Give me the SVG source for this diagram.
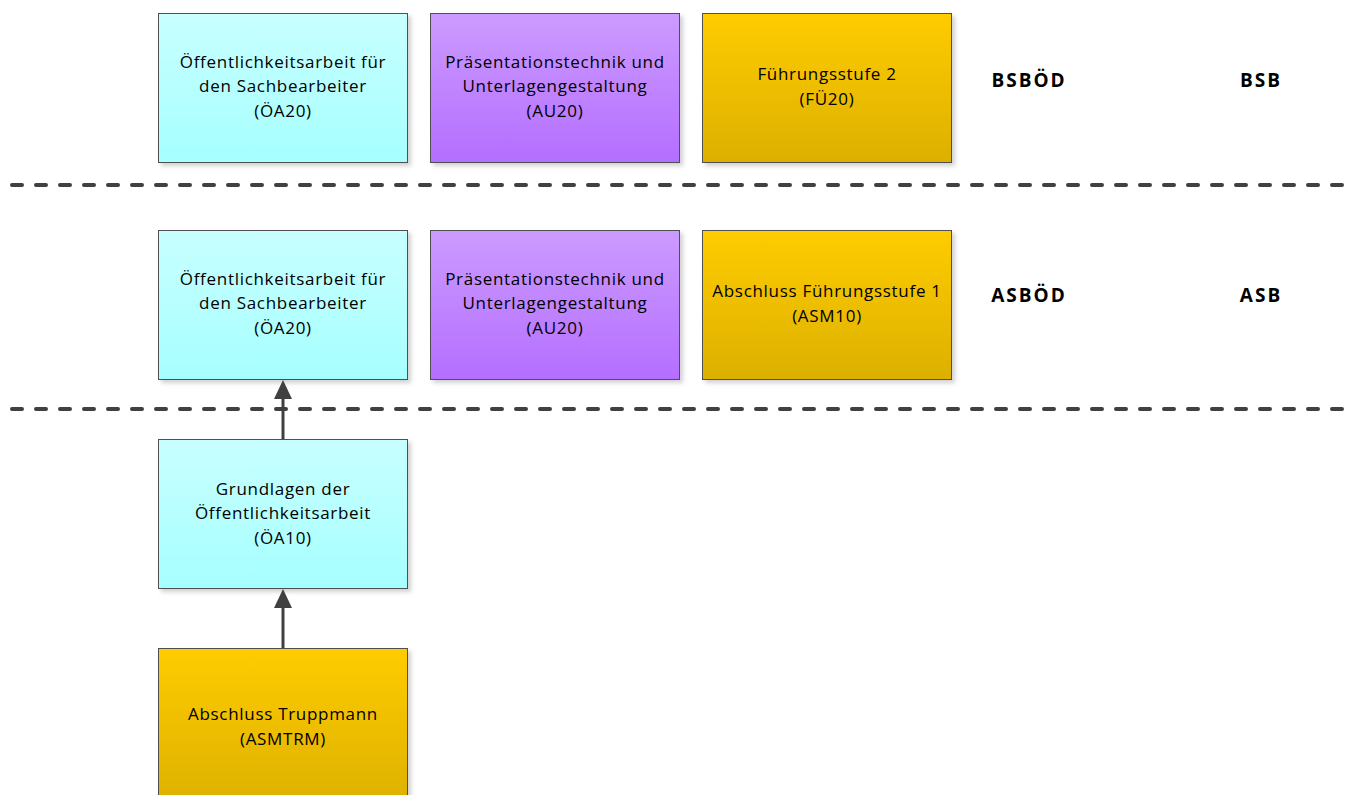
<svg xmlns="http://www.w3.org/2000/svg" width="1351" height="795" viewBox="0 0 1351 795">
<defs>
<linearGradient id="gc" x1="0" y1="0" x2="0" y2="1"><stop offset="0" stop-color="#c8ffff"/><stop offset="1" stop-color="#a6ffff"/></linearGradient>
<linearGradient id="gp" x1="0" y1="0" x2="0" y2="1"><stop offset="0" stop-color="#cc9bff"/><stop offset="1" stop-color="#b46eff"/></linearGradient>
<linearGradient id="gy" x1="0" y1="0" x2="0" y2="1"><stop offset="0" stop-color="#ffcc00"/><stop offset="1" stop-color="#dcb000"/></linearGradient>
<filter id="sh" x="-5%" y="-5%" width="115%" height="115%"><feDropShadow dx="3" dy="3" stdDeviation="2" flood-color="#000" flood-opacity="0.18"/></filter>
</defs>
<style>
.box{stroke:#505050;stroke-width:1;filter:url(#sh)}
.t{font-family:"Open Sans","Liberation Sans",sans-serif;font-size:17px;letter-spacing:0.7px;fill:#000;text-anchor:middle}
.b{font-family:"Open Sans","Liberation Sans",sans-serif;font-size:19px;letter-spacing:2px;font-weight:bold;fill:#000;text-anchor:middle}
.sep{stroke:#404040;stroke-width:4;stroke-linecap:round;stroke-dasharray:10 14;fill:none}
.con{stroke:#404040;stroke-width:3;fill:none}
.ah{fill:#404040}
</style>
<rect width="1351" height="795" fill="#fff"/>
<g id="separators">
<line class="sep" x1="12" y1="185" x2="1351" y2="185"/>
<line class="sep" x1="12" y1="409" x2="1351" y2="409"/>
</g>
<g id="n1"><rect class="box" x="158.5" y="13.5" width="249" height="149" fill="url(#gc)"/>
<text class="t" x="283" y="68">Öffentlichkeitsarbeit für</text><text class="t" x="283" y="92">den Sachbearbeiter</text><text class="t" x="283" y="117">(ÖA20)</text></g>
<g id="n2"><rect class="box" x="430.5" y="13.5" width="249" height="149" fill="url(#gp)"/>
<text class="t" x="555" y="68">Präsentationstechnik und</text><text class="t" x="555" y="92">Unterlagengestaltung</text><text class="t" x="555" y="117">(AU20)</text></g>
<g id="n3"><rect class="box" x="702.5" y="13.5" width="249" height="149" fill="url(#gy)"/>
<text class="t" x="827" y="80">Führungsstufe 2</text><text class="t" x="827" y="105">(FÜ20)</text></g>
<g id="l1"><text class="b" x="1029" y="87">BSBÖD</text></g>
<g id="l2"><text class="b" x="1261" y="87">BSB</text></g>
<g id="n4"><rect class="box" x="158.5" y="230.5" width="249" height="149" fill="url(#gc)"/>
<text class="t" x="283" y="285">Öffentlichkeitsarbeit für</text><text class="t" x="283" y="309">den Sachbearbeiter</text><text class="t" x="283" y="334">(ÖA20)</text></g>
<g id="n5"><rect class="box" x="430.5" y="230.5" width="249" height="149" fill="url(#gp)"/>
<text class="t" x="555" y="285">Präsentationstechnik und</text><text class="t" x="555" y="309">Unterlagengestaltung</text><text class="t" x="555" y="334">(AU20)</text></g>
<g id="n6"><rect class="box" x="702.5" y="230.5" width="249" height="149" fill="url(#gy)"/>
<text class="t" x="827" y="297">Abschluss Führungsstufe 1</text><text class="t" x="827" y="322">(ASM10)</text></g>
<g id="l3"><text class="b" x="1029" y="302">ASBÖD</text></g>
<g id="l4"><text class="b" x="1261" y="302">ASB</text></g>
<g id="n7"><rect class="box" x="158.5" y="439.5" width="249" height="149" fill="url(#gc)"/>
<text class="t" x="283" y="495">Grundlagen der</text><text class="t" x="283" y="519">Öffentlichkeitsarbeit</text><text class="t" x="283" y="544">(ÖA10)</text></g>
<g id="n8"><rect class="box" x="158.5" y="648.5" width="249" height="160" fill="url(#gy)"/>
<text class="t" x="283" y="720">Abschluss Truppmann</text><text class="t" x="283" y="745">(ASMTRM)</text></g>
<g id="connectors">
<line class="con" x1="283" y1="439" x2="283" y2="398"/>
<path class="ah" d="M274,399 L283,380 L292,399 z"/>
<line class="con" x1="283" y1="648" x2="283" y2="607"/>
<path class="ah" d="M274,608 L283,589 L292,608 z"/>
</g>
</svg>
